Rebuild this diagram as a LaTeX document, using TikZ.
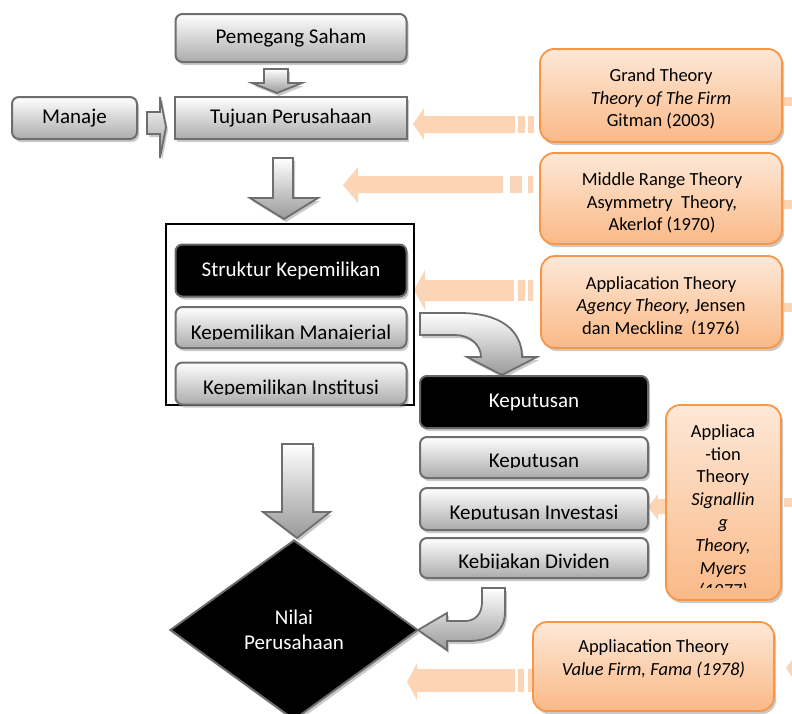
\documentclass[tikz,border=0pt]{standalone}
\usepackage{fontspec}
\setmainfont{Carlito}
\usetikzlibrary{shapes.geometric,shadows}

\definecolor{boxline}{HTML}{6E6E6E}
\definecolor{peachtop}{HTML}{FDE8D7}
\definecolor{peachbot}{HTML}{FAB987}
\definecolor{theoryline}{HTML}{F79646}
\definecolor{peacharrow}{HTML}{FBD5B5}

\begin{document}
\begin{tikzpicture}[x=1pt,y=-1pt,
    softshadow/.style={drop shadow={shadow xshift=2pt,shadow yshift=-3pt,
            opacity=0.35,fill=black!60}},
    greybox/.style={draw=boxline,line width=2pt,rounded corners=7pt,
        top color=white,bottom color=black!33,softshadow,
        font=\fontsize{21}{25}\selectfont,inner sep=0pt},
    blackbox/.style={draw=black!60,line width=2pt,rounded corners=7pt,
        fill=black,text=white,softshadow,
        font=\fontsize{21}{25}\selectfont,inner sep=0pt},
    boxtext/.style={font=\fontsize{21}{25}\selectfont,inner sep=0pt},
    theorybox/.style={draw=theoryline,line width=1.8pt,rounded corners=14pt,
        top color=peachtop,bottom color=peachbot,softshadow,inner sep=0pt},
    theorytext/.style={font=\fontsize{18.5}{22.8}\selectfont,align=center,
        inner sep=0pt},
    greyarrow/.style={draw=boxline,line width=1.8pt,top color=white,
        bottom color=black!40,softshadow},
    peachfill/.style={fill=peacharrow}]
\useasboundingbox (0,0) rectangle (792,713);
\clip (0,0) rectangle (792,713);

% peach arrows from the theories
\fill[peachfill] (413,124) -- (424,108) -- (424,116) -- (515,116) -- (515,133) -- (424,133) -- (424,140) -- cycle;
\fill[peachfill] (518,116) rectangle (525,133);
\fill[peachfill] (528,116) rectangle (534,133);

\fill[peachfill] (343,185) -- (358,167) -- (358,176) -- (503,176) -- (503,193) -- (358,193) -- (358,203) -- cycle;
\fill[peachfill] (510,176) rectangle (522,193);
\fill[peachfill] (528,176) rectangle (533,193);

\fill[peachfill] (414,290) -- (425,270) -- (425,280) -- (514,280) -- (514,301) -- (425,301) -- (425,310) -- cycle;
\fill[peachfill] (518,280) rectangle (525,301);
\fill[peachfill] (528,280) rectangle (533,301);

\fill[peachfill] (648,507) -- (658,494) -- (658,499) -- (668,499) -- (668,514) -- (658,514) -- (658,520) -- cycle;

\fill[peachfill] (407,682) -- (417,663) -- (417,669) -- (515,669) -- (515,692) -- (417,692) -- (417,700) -- cycle;
\fill[peachfill] (518,669) rectangle (524,692);
\fill[peachfill] (528,669) rectangle (533,692);

\fill[peachfill] (784,97) rectangle (792,106);
\fill[peachfill] (784,200) rectangle (792,209);
\fill[peachfill] (784,303) rectangle (792,312);
\fill[peachfill] (784,498) rectangle (792,507);
\fill[peachfill] (792,660) -- (786,668) -- (792,677) -- cycle;

% grey block arrows
\draw[greyarrow] (264,69) -- (288,69) -- (288,83) -- (302,83) -- (277,93) -- (252,83) -- (264,83) -- cycle;
\draw[greyarrow] (147,112) -- (160,112) -- (160,97) -- (166,127) -- (160,158) -- (160,134) -- (147,134) -- cycle;
\draw[greyarrow] (273,158) -- (293,158) -- (293,198) -- (318,198) -- (284,219) -- (250,198) -- (273,198) -- cycle;
\draw[greyarrow] (282,444) -- (313,444) -- (313,512) -- (330,512) -- (297,538) -- (263,512) -- (282,512) -- cycle;
\draw[greyarrow] (420,313) -- (460,313) .. controls (500,313) and (522,330) .. (522,357)
    -- (537,357) -- (502,375) -- (467,357) -- (481,357)
    .. controls (481,345) and (470,335) .. (455,335) -- (420,335) -- cycle;

% frame round the ownership group
\draw[line width=1.2pt] (166,224) rectangle (414,405);

% boxes
\node[greybox,minimum width=231pt,minimum height=48pt] (pemegang) at (291,38) {Pemegang Saham};
\node[greybox,rounded corners=0pt,minimum width=232pt,minimum height=42pt] (tujuan) at (291,118) {Tujuan Perusahaan};
\node[greybox,minimum width=125pt,minimum height=42pt] (manaje) at (74.5,118) {Manaje};

\node[blackbox,minimum width=231pt,minimum height=52pt] (struktur) at (291,270.5) {Struktur Kepemilikan};
\node[greybox,minimum width=231pt,minimum height=41pt] (manajerial) at (291,327.5) {};
\begin{scope}
\clip (175,307) rectangle (407,339.5);
\node[boxtext,anchor=base] (tmanajerial) at (291,339) {Kepemilikan Manajerial};
\end{scope}
\node[greybox,minimum width=231pt,minimum height=42pt] (institusi) at (291,383.5) {};
\begin{scope}
\clip (175,362) rectangle (407,394.5);
\node[boxtext,anchor=base] (tinstitusi) at (291,394) {Kepemilikan Institusi};
\end{scope}

\node[blackbox,minimum width=228pt,minimum height=52pt] (keputusan) at (534,402) {Keputusan};
\node[greybox,minimum width=228pt,minimum height=41pt] (kepgrey) at (534,457.5) {};
\begin{scope}
\clip (420,437) rectangle (648,467.5);
\node[boxtext,anchor=base] (tkepgrey) at (534,467) {Keputusan};
\end{scope}
\node[greybox,minimum width=228pt,minimum height=42pt] (investasi) at (534,509) {};
\begin{scope}
\clip (420,488) rectangle (648,519.5);
\node[boxtext,anchor=base] (tinvestasi) at (534,519) {Keputusan Investasi};
\end{scope}
\node[greybox,minimum width=228pt,minimum height=40pt] (dividen) at (534,558) {};
\begin{scope}
\clip (420,538) rectangle (648,568.5);
\node[boxtext,anchor=base] (tdividen) at (534,568) {Kebijakan Dividen};
\end{scope}

% firm value
\node[diamond,draw=boxline,line width=2pt,fill=black,text=white,softshadow,
    minimum width=248pt,minimum height=180pt,inner sep=0pt,align=center,
    font=\fontsize{21}{25}\selectfont] (nilai) at (294,630) {Nilai\\Perusahaan};
\draw[greyarrow] (482,588) -- (505,588) -- (505,612) .. controls (505,632) and (490,641) .. (468,641)
    -- (447,641) -- (447,650) -- (418,630) -- (447,613) -- (447,621) -- (465,621)
    .. controls (476,621) and (482,613) .. (482,602) -- cycle;

% theories
\node[theorybox,minimum width=242pt,minimum height=93pt] (grand) at (661,95.5) {};
\node[theorytext] (tgrand) at (661,99) {Grand Theory\\\textit{Theory of The Firm}\\Gitman (2003)};

\node[theorybox,minimum width=242pt,minimum height=91pt] (middle) at (661,198.5) {};
\begin{scope}
\clip (540,153) rectangle (782,232);
\node[theorytext] (tmiddle) at (662,203) {Middle Range Theory\\Asymmetry\ \ Theory,\\Akerlof (1970)};
\end{scope}

\node[theorybox,minimum width=241pt,minimum height=92pt] (agency) at (661.5,302) {};
\begin{scope}
\clip (541,256) rectangle (782,333);
\node[theorytext] (tagency) at (661,307) {Appliacation Theory\\\textit{Agency Theory,} Jensen\\dan Meckling\ \ (1976)};
\end{scope}

\node[theorybox,minimum width=115pt,minimum height=195pt] (signal) at (723.5,502.5) {};
\begin{scope}
\clip (666,405) rectangle (781,587);
\node[theorytext] (tsignal) at (723,512) {Appliaca\\-tion\\Theory\\\textit{Signallin}\\\textit{g}\\\textit{Theory,}\\\textit{Myers}\\\textit{(1977)}};
\end{scope}

\node[theorybox,minimum width=241pt,minimum height=89pt] (value) at (653.5,666.5) {};
\node[theorytext] (tvalue) at (653.5,659) {Appliacation Theory\\\textit{Value Firm, Fama (1978)}};

\end{tikzpicture}
\end{document}
